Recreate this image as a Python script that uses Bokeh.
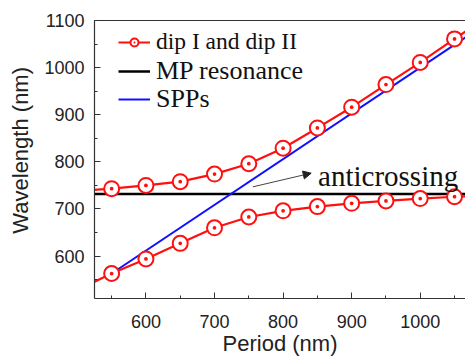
from bokeh.plotting import figure
from bokeh.models import (Range1d, SingleIntervalTicker, FixedTicker, LinearAxis, Legend,
                          LegendItem, Arrow, NormalHead, Label)
from bokeh.embed import file_html
from bokeh.resources import INLINE

# ---- data ----
period = [500, 550, 600, 650, 700, 750, 800, 850, 900, 950, 1000, 1050, 1100]
dip_upper = [738, 743, 750, 758, 774, 796, 829, 872, 916, 964, 1011, 1061, 1110]
dip_lower = [528, 563, 594, 627, 660, 683, 696, 705, 712, 717, 722, 726, 729]

mp_period = [500, 1100]
mp_wavelength = [732, 732]

spp_period = [550, 1100]
spp_wavelength = [563, 1097]

arrow_from = (756, 747)
arrow_to = (841, 776)
note_at = (851, 769)
note_text = "anticrossing"

x_title = "Period (nm)"
y_title = "\u00a0\u00a0\u00a0Wavelength (nm)"

# ---- figure ----
AX = "#333333"
p = figure(width=465, height=358, x_range=Range1d(525, 1066), y_range=Range1d(510, 1100),
           output_backend="svg", toolbar_location=None,
           min_border_left=94, min_border_right=0, min_border_top=20, min_border_bottom=59)
p.grid.visible = False
p.outline_line_color = None
p.background_fill_color = "white"

for ax in (p.xaxis, p.yaxis):
    ax.ticker = SingleIntervalTicker(interval=100, num_minor_ticks=2)
    ax.major_tick_in = 6
    ax.major_tick_out = 0
    ax.minor_tick_in = 3
    ax.minor_tick_out = 0
    ax.axis_line_color = AX
    ax.major_tick_line_color = AX
    ax.minor_tick_line_color = AX
    ax.axis_line_width = 1.2
    ax.major_label_text_font = "Liberation Sans"
    ax.major_label_text_font_size = "18px"
    ax.major_label_text_color = "#222222"
    ax.axis_label_text_font = "Liberation Sans"
    ax.axis_label_text_font_size = "22px"
    ax.axis_label_text_font_style = "normal"
    ax.axis_label_text_color = "#222222"

p.xaxis.axis_label = x_title
p.yaxis.axis_label = y_title
p.xaxis.major_label_standoff = 16
p.xaxis.axis_label_standoff = 0
p.yaxis.major_label_standoff = 10
p.yaxis.axis_label_standoff = 8

top_axis = LinearAxis(ticker=FixedTicker(ticks=[]), major_tick_line_color=None,
                      minor_tick_line_color=None, major_label_standoff=0,
                      axis_line_color=AX, axis_line_width=1.2)
p.add_layout(top_axis, "above")

mp = p.line(mp_period, mp_wavelength, line_color="black", line_width=2.5)
spp = p.line(spp_period, spp_wavelength, line_color="#1010ff", line_width=2)

RED = "#ff1010"
l1 = p.line(period, dip_upper, line_color=RED, line_width=2.2)
s1 = p.scatter(period, dip_upper, marker="circle_dot", size=15, line_color=RED,
               fill_color="white", line_width=2)
l2 = p.line(period, dip_lower, line_color=RED, line_width=2.2)
s2 = p.scatter(period, dip_lower, marker="circle_dot", size=15, line_color=RED,
               fill_color="white", line_width=2)

common = dict(label_text_font="Liberation Serif", label_text_color="#111111",
              background_fill_alpha=0, border_line_alpha=0, padding=0, margin=0,
              spacing=0, glyph_width=32, glyph_height=20, label_height=20, label_standoff=6)

leg1 = Legend(items=[LegendItem(label="dip I and dip II", renderers=[l1, s1])],
              location=(24, 243), label_text_font_size="23.5px", **common)
leg2 = Legend(items=[LegendItem(label="MP resonance", renderers=[mp])],
              location=(24, 212), label_text_font_size="26px", **common)
leg3 = Legend(items=[LegendItem(label="SPPs", renderers=[spp])],
              location=(24, 184), label_text_font_size="26px", **common)
p.add_layout(leg1)
p.add_layout(leg2)
p.add_layout(leg3)

p.add_layout(Arrow(end=NormalHead(size=8, fill_color="#222222", line_color="#222222"),
                   x_start=arrow_from[0], y_start=arrow_from[1],
                   x_end=arrow_to[0], y_end=arrow_to[1],
                   line_color="#444444", line_width=1))
p.add_layout(Label(x=note_at[0], y=note_at[1], text=note_text, text_font="Liberation Serif",
                   text_font_size="29px", text_color="#111111", text_baseline="alphabetic"))

open("out.html", "w").write(file_html(p, INLINE))
